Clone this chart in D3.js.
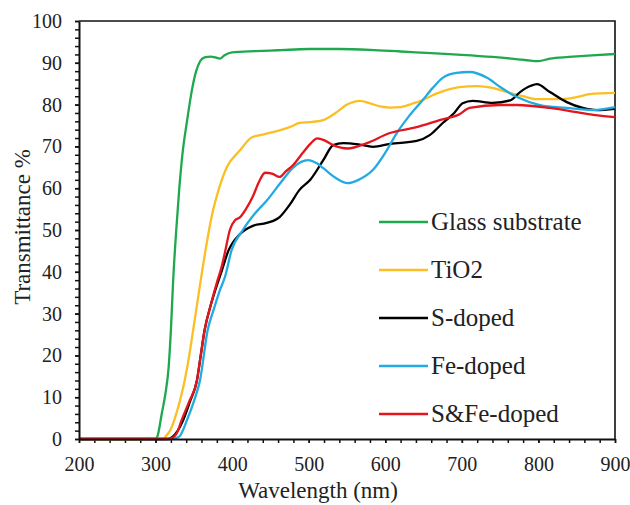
<!DOCTYPE html>
<html>
<head>
<meta charset="utf-8">
<script src="https://cdn.jsdelivr.net/npm/d3@7"></script>
<style>
  body { margin: 0; background: #fff; }
  text { font-family: 'Liberation Serif', serif !important; }
</style>
</head>
<body>
<svg width="630" height="505" font-family="Liberation Serif"></svg>
<script>
// series: wavelength (nm) and transmittance (%)
const seriesNames = ['Glass substrate', 'TiO2', 'S-doped', 'Fe-doped', 'S&Fe-doped'];
const seriesColors = ['#1fa84e', '#fbbf24', '#000000', '#22aae2', '#e3151d'];

const glassWl = [200, 300, 303, 308, 313, 317, 320, 323, 327, 331, 335, 341, 348, 353, 358, 364, 372, 378, 384, 390, 400, 430, 460, 500, 540, 580, 620, 660, 700, 740, 770, 790, 800, 815, 840, 870, 900];
const glassT  = [0, 0, 1, 6, 11, 17, 26, 38, 50, 60, 68, 76, 84, 88, 90.3, 91.3, 91.5, 91.3, 91.0, 91.8, 92.5, 92.8, 93.0, 93.3, 93.3, 93.1, 92.7, 92.3, 91.9, 91.4, 90.9, 90.5, 90.4, 91.0, 91.4, 91.8, 92.1];

const tio2Wl = [200, 310, 314, 319, 327, 333, 338, 344, 349, 354, 359, 366, 373, 383, 393, 410, 426, 440, 453, 475, 488, 500, 519, 535, 550, 567, 580, 595, 606, 620, 635, 649, 665, 684, 697, 720, 740, 759, 780, 798, 832, 850, 867, 900];
const tio2T  = [0, 0, 0.8, 2, 6, 10, 14, 20, 26, 32, 38, 46, 53, 60, 65, 69, 72.2, 72.8, 73.4, 74.6, 75.6, 75.8, 76.3, 78, 80, 80.9, 80.3, 79.5, 79.3, 79.4, 80.2, 81.1, 82.5, 83.7, 84.2, 84.4, 84, 83, 82, 81.3, 81.3, 81.8, 82.5, 82.8];

const sWl = [200, 315, 322, 329, 336, 345, 354, 359, 364, 372, 378, 386, 395, 410, 427, 445, 462, 475, 488, 502, 519, 532, 545, 565, 584, 606, 641, 658, 675, 690, 701, 714, 740, 763, 776, 790, 798, 815, 837, 858, 876, 900];
const sT  = [0, 0, 0.5, 2, 4.5, 9, 14, 20, 26, 32, 35.6, 40, 45, 49, 51, 51.7, 53.1, 56, 59.6, 62, 66.7, 70.3, 70.8, 70.5, 69.9, 70.6, 71.3, 72.7, 75.6, 78, 80.3, 80.9, 80.4, 81, 83, 84.5, 84.9, 83, 80.6, 79.2, 78.7, 79];

const feWl = [200, 320, 328, 332, 341, 350, 358, 368, 376, 384, 391, 399, 414, 430, 445, 462, 480, 499, 510, 519, 535, 551, 565, 584, 600, 615, 630, 649, 662, 675, 693, 710, 733, 750, 772, 802, 837, 871, 900];
const feT  = [0, 0, 0.3, 0.8, 4.5, 9, 14, 26, 31, 35.6, 39, 45, 50, 54, 57, 61, 65, 66.7, 66, 64.8, 62.5, 61.2, 62, 64.4, 68.5, 73.2, 77, 81.1, 84, 86.4, 87.6, 87.8, 86.4, 84.2, 81.8, 79.9, 79.2, 78.7, 79.4];

const sfeWl = [200, 318, 324, 328, 334, 344, 354, 359, 364, 372, 381, 386, 391, 397, 404, 410, 418, 427, 435, 443, 452, 462, 470, 480, 492, 503, 511, 520, 532, 551, 576, 606, 641, 671, 697, 710, 750, 772, 815, 850, 875, 900];
const sfeT  = [0, 0, 0.5, 1.5, 4.5, 9, 14, 20, 26, 32, 38, 41, 45, 50, 52.4, 53, 55, 58, 61.5, 63.7, 63.5, 62.7, 64, 65.6, 68.4, 70.8, 71.9, 71.5, 70.3, 69.5, 70.8, 73.2, 74.6, 76.3, 77.7, 79.2, 79.9, 79.9, 79.2, 78.2, 77.5, 77];

const xTicks = [200, 300, 400, 500, 600, 700, 800, 900];
const yTicks = [0, 10, 20, 30, 40, 50, 60, 70, 80, 90, 100];

const svg = d3.select('svg');
const margin = { top: 21, right: 15, bottom: 66, left: 79 };
const width = +svg.attr('width');
const height = +svg.attr('height');
const innerWidth = width - margin.left - margin.right;
const innerHeight = height - margin.top - margin.bottom;

const xScale = d3.scaleLinear().domain([200, 900]).range([0, innerWidth]);
const yScale = d3.scaleLinear().domain([0, 100]).range([innerHeight, 0]);

const g = svg.append('g')
  .attr('transform', `translate(${margin.left},${margin.top})`);

// frame on top and right
g.append('path')
  .attr('d', `M0,0H${innerWidth}V${innerHeight}`)
  .attr('fill', 'none')
  .attr('stroke', '#111')
  .attr('stroke-width', 1.6);

// minor ticks
g.append('g')
  .attr('transform', `translate(0,${innerHeight})`)
  .call(d3.axisBottom(xScale).tickValues(d3.range(200, 901, 20)).tickSize(4).tickFormat(''))
  .call(a => a.select('.domain').remove())
  .call(a => a.selectAll('text').remove())
  .selectAll('line').attr('stroke', '#111').attr('stroke-width', 1.5);

g.append('g')
  .call(d3.axisLeft(yScale).tickValues(d3.range(0, 101, 2)).tickSize(4).tickFormat(''))
  .call(a => a.select('.domain').remove())
  .call(a => a.selectAll('text').remove())
  .selectAll('line').attr('stroke', '#111').attr('stroke-width', 1.5);

const lineGen = d3.line()
  .x(d => xScale(d[0]))
  .y(d => yScale(d[1]))
  .curve(d3.curveMonotoneX);

const series = [
  [glassWl, glassT],
  [tio2Wl, tio2T],
  [sWl, sT],
  [feWl, feT],
  [sfeWl, sfeT]
];

series.forEach(([wl, t], i) => {
  g.append('path')
    .attr('d', lineGen(wl.map((w, j) => [w, t[j]])))
    .attr('fill', 'none')
    .attr('stroke', seriesColors[i])
    .attr('stroke-width', 2.3)
    .attr('stroke-linejoin', 'round');
});

// major axes
const xAxisG = g.append('g')
  .attr('transform', `translate(0,${innerHeight})`)
  .call(d3.axisBottom(xScale).tickValues(xTicks).tickSize(4).tickPadding(14).tickSizeOuter(0))
  .attr('font-family', null)
  .attr('font-size', 20);
xAxisG.select('.domain').attr('stroke', '#111').attr('stroke-width', 2);
xAxisG.selectAll('line').attr('stroke', '#111').attr('stroke-width', 1.5);
xAxisG.selectAll('text').attr('fill', '#222');

const yAxisG = g.append('g')
  .call(d3.axisLeft(yScale).tickValues(yTicks).tickSize(4).tickPadding(13).tickSizeOuter(0))
  .attr('font-family', null)
  .attr('font-size', 20);
yAxisG.select('.domain').attr('stroke', '#111').attr('stroke-width', 2);
yAxisG.selectAll('line').attr('stroke', '#111').attr('stroke-width', 1.5);
yAxisG.selectAll('text').attr('fill', '#222');

// axis titles
svg.append('text')
  .attr('x', 318)
  .attr('y', 498)
  .attr('text-anchor', 'middle')
  .attr('font-size', 23)
  .attr('fill', '#222')
  .text('Wavelength (nm)');

svg.append('text')
  .attr('transform', 'translate(30,227) rotate(-90)')
  .attr('text-anchor', 'middle')
  .attr('font-size', 23)
  .attr('fill', '#222')
  .text('Transmittance %');

// legend
const legend = svg.append('g').attr('transform', 'translate(379,222)');
seriesNames.forEach((name, i) => {
  const row = legend.append('g').attr('transform', `translate(0,${i * 48})`);
  row.append('line')
    .attr('x1', 0).attr('x2', 49)
    .attr('stroke', seriesColors[i])
    .attr('stroke-width', 2.3);
  row.append('text')
    .attr('x', 52)
    .attr('dy', '0.33em')
    .attr('font-size', 25)
    .attr('fill', '#222')
    .text(name);
});
</script>
</body>
</html>
